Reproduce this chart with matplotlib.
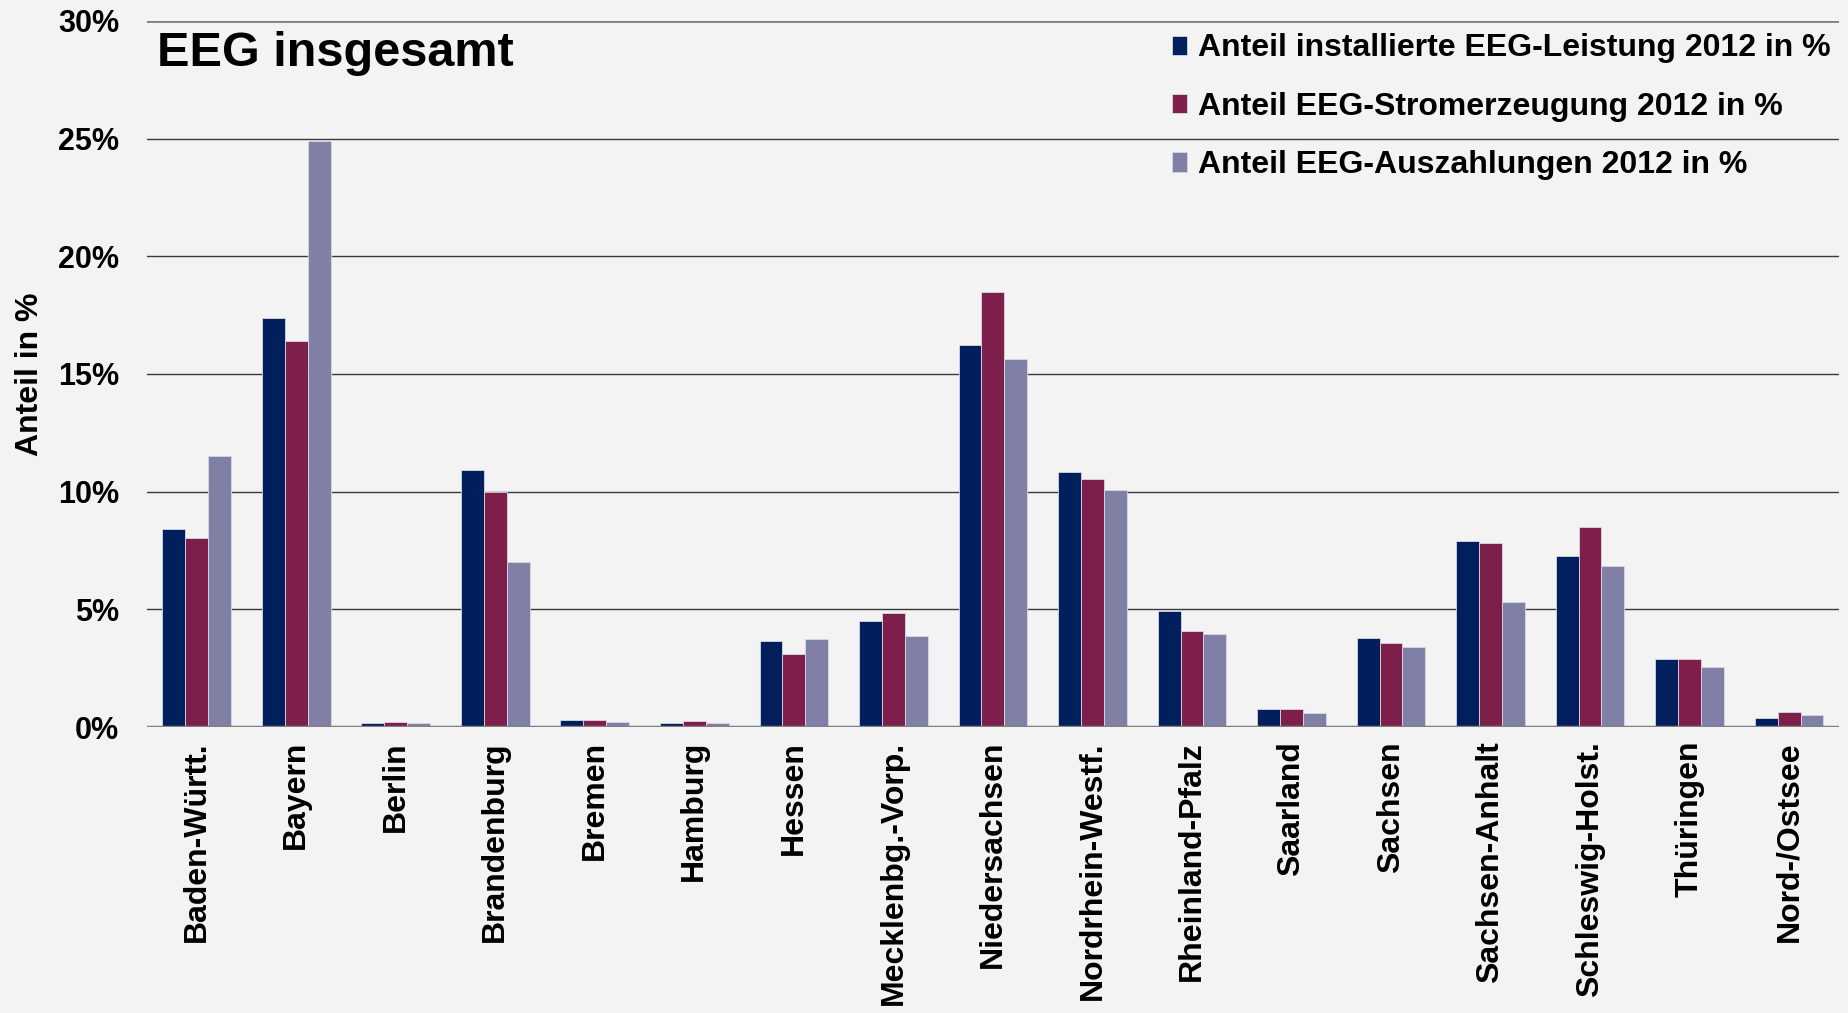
import matplotlib
matplotlib.use('Agg')
import matplotlib.pyplot as plt
import numpy as np

# Bundeslaender und Anteile 2012 in %
laender = ["Baden-Württ.", "Bayern", "Berlin", "Brandenburg", "Bremen",
           "Hamburg", "Hessen", "Mecklenbg.-Vorp.", "Niedersachsen",
           "Nordrhein-Westf.", "Rheinland-Pfalz", "Saarland", "Sachsen",
           "Sachsen-Anhalt", "Schleswig-Holst.", "Thüringen", "Nord-/Ostsee"]

leistung = [8.4, 17.4, 0.15, 10.9, 0.3, 0.19, 3.65, 4.5, 16.25,
            10.85, 4.95, 0.77, 3.8, 7.9, 7.25, 2.9, 0.38]
strom = [8.05, 16.4, 0.2, 10.0, 0.31, 0.24, 3.1, 4.85, 18.5,
         10.55, 4.1, 0.78, 3.55, 7.8, 8.5, 2.9, 0.62]
auszahlung = [11.5, 24.9, 0.17, 7.0, 0.2, 0.15, 3.75, 3.85, 15.65,
              10.05, 3.95, 0.61, 3.4, 5.3, 6.85, 2.55, 0.5]

serien = ["Anteil installierte EEG-Leistung 2012 in %",
          "Anteil EEG-Stromerzeugung 2012 in %",
          "Anteil EEG-Auszahlungen 2012 in %"]
farben = ["#001F5C", "#7E1E4B", "#8080A6"]

plt.rcParams['font.family'] = ['Liberation Sans', 'DejaVu Sans']
plt.rcParams['font.weight'] = 'bold'

bg = "#F3F3F3"
fig = plt.figure(figsize=(18.49, 10.13), dpi=100, facecolor=bg)
ax = fig.add_axes([0.0795, 0.2823, 0.915, 0.697], facecolor=bg)

x = np.arange(len(laender))
w = 0.23
for i, (werte, name, farbe) in enumerate(zip([leistung, strom, auszahlung], serien, farben)):
    ax.bar(x + (i - 1) * w, werte, width=w, color=farbe, label=name,
           edgecolor='#d8d8e4', linewidth=0.6, zorder=3)

ax.set_xlim(-0.5, len(laender) - 0.5)
ax.set_ylim(0, 30)
ax.set_yticks(np.arange(0, 31, 5))
ax.set_yticklabels(["{}%".format(v) for v in range(0, 31, 5)])
for v in range(5, 30, 5):
    ax.axhline(v, color='#3a3a3a', linewidth=1.0, zorder=1)
ax.axhline(30, color='#808080', linewidth=2.0, zorder=1)
ax.axhline(0, color='#808080', linewidth=2.5, zorder=4)

for s in ax.spines.values():
    s.set_visible(False)
ax.tick_params(axis='y', length=0, labelsize=22, pad=20)
ax.tick_params(axis='x', length=0, labelsize=23, pad=10)
ax.set_xticks(x)
ax.set_xticklabels(laender, rotation=90, fontweight='bold')
for t in ax.get_yticklabels():
    t.set_fontweight('bold')

ax.set_ylabel("Anteil in %", fontsize=23, fontweight='bold')
ax.yaxis.set_label_coords(-0.06, 0.5)

fig.text(0.085, 0.935, "EEG insgesamt", fontsize=35, fontweight='bold',
         va='baseline', ha='left')

leg = ax.legend(loc='upper right', bbox_to_anchor=(1.012, 1.023), frameon=False,
                fontsize=23, handlelength=0.45, handleheight=0.55,
                handletextpad=0.35, labelspacing=0.89)
for t in leg.get_texts():
    t.set_fontweight('bold')

fig.savefig("out.png", dpi=100, facecolor=bg)
